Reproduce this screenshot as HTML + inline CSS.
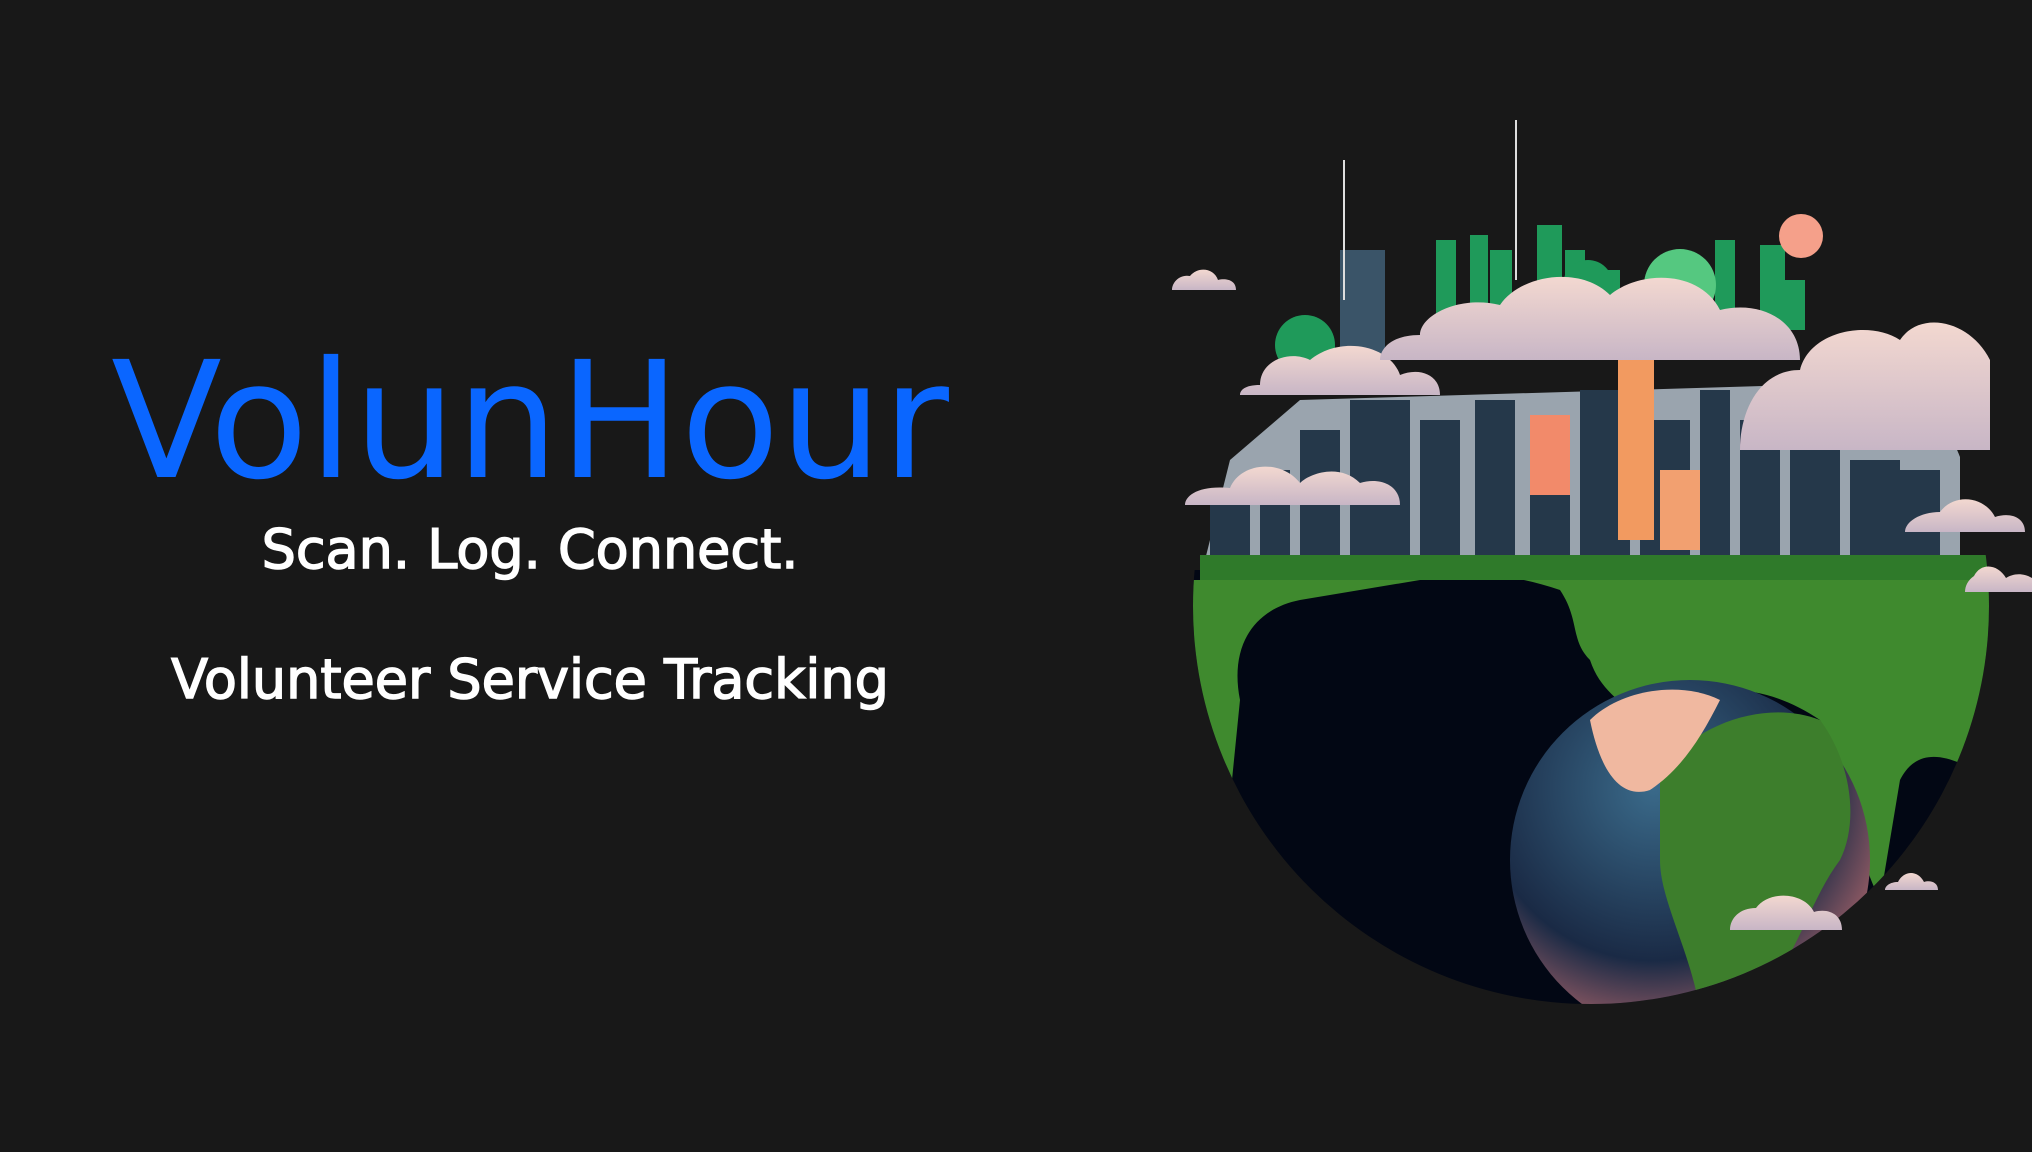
<!DOCTYPE html>
<html><head><meta charset="utf-8"><style>
html,body{margin:0;padding:0;background:#181818;}
body{width:2032px;height:1152px;position:relative;overflow:hidden;font-family:"DejaVu Sans","Liberation Sans",sans-serif;}
.t{position:absolute;left:0;width:1060px;text-align:center;white-space:nowrap;}
#h{top:322px;font-size:162px;color:#0a66ff;line-height:200px;}
#s{top:515px;font-size:54px;color:#fff;line-height:70px;-webkit-text-stroke:1.5px #fff;}
#v{top:645px;font-size:54px;color:#fff;line-height:70px;-webkit-text-stroke:1.5px #fff;}
svg{position:absolute;left:0;top:0;}
</style></head><body>
<div class="t" id="h">VolunHour</div>
<div class="t" id="s">Scan. Log. Connect.</div>
<div class="t" id="v">Volunteer Service Tracking</div>
<svg width="2032" height="1152" viewBox="0 0 2032 1152">
<defs>
<clipPath id="g"><circle cx="1591" cy="606" r="398"/></clipPath>
<radialGradient id="ie" cx="0.4" cy="0.3" r="0.8"><stop offset="0" stop-color="#3a6a8a"/><stop offset="0.6" stop-color="#1a2a45"/><stop offset="1" stop-color="#e07a78"/></radialGradient>
<linearGradient id="cl" x1="0" y1="0" x2="0" y2="1"><stop offset="0" stop-color="#f3d8d0"/><stop offset="1" stop-color="#c8b6c6"/></linearGradient>
</defs>
<g fill="#1f9a5a">
<rect x="1340" y="250" width="45" height="130" fill="#3a5468"/>
<rect x="1436" y="240" width="20" height="90"/><rect x="1470" y="235" width="18" height="95"/><rect x="1490" y="250" width="22" height="80"/>
<rect x="1537" y="225" width="25" height="100"/><rect x="1565" y="250" width="20" height="70"/><rect x="1600" y="270" width="20" height="60"/>
<rect x="1715" y="240" width="20" height="90"/><rect x="1760" y="245" width="25" height="90"/><rect x="1785" y="280" width="20" height="50"/>
<circle cx="1588" cy="285" r="25"/><circle cx="1680" cy="285" r="36" fill="#55c880"/><circle cx="1305" cy="345" r="30"/></g>
<line x1="1344" y1="160" x2="1344" y2="300" stroke="#ddd" stroke-width="2"/>
<line x1="1516" y1="120" x2="1516" y2="280" stroke="#ddd" stroke-width="2"/>
<circle cx="1801" cy="236" r="22" fill="#f5a08a"/>
<g clip-path="url(#g)">
<rect x="1190" y="570" width="800" height="440" fill="#020714"/>
<path d="M1190 580 L1990 580 L1990 780 C1960 760 1920 740 1900 780 L1880 900 C1860 860 1840 780 1820 720 C1760 680 1700 680 1640 720 C1620 700 1600 690 1590 660 C1570 640 1580 620 1560 590 C1500 570 1450 570 1420 580 L1300 600 C1250 610 1230 650 1240 700 L1230 800 L1190 800 Z" fill="#3f8a2e"/>
<circle cx="1690" cy="860" r="180" fill="url(#ie)"/>
<path d="M1660 770 C1700 720 1770 700 1820 720 C1850 760 1860 820 1840 860 C1810 900 1800 950 1760 1000 L1700 1010 C1690 950 1660 900 1660 860 Z" fill="#3d7e2c"/>
<path d="M1590 720 C1620 690 1680 680 1720 700 C1700 740 1680 770 1650 790 C1620 800 1600 770 1590 720Z" fill="#f0b8a0"/>
<path d="M1230 460 L1300 400 L1960 380 L1960 580 L1200 580 Z" fill="#9aa4ae"/>
<g fill="#25384a">
<rect x="1210" y="500" width="40" height="80"/><rect x="1260" y="470" width="30" height="110"/><rect x="1300" y="430" width="40" height="150"/>
<rect x="1350" y="400" width="60" height="180"/><rect x="1420" y="420" width="40" height="160"/><rect x="1475" y="400" width="40" height="180"/>
<rect x="1530" y="420" width="40" height="160"/><rect x="1580" y="390" width="50" height="190"/><rect x="1640" y="420" width="50" height="160"/>
<rect x="1700" y="390" width="30" height="190"/><rect x="1740" y="420" width="40" height="160"/><rect x="1790" y="450" width="50" height="130"/>
<rect x="1850" y="460" width="50" height="120"/><rect x="1900" y="470" width="40" height="110"/></g>
<rect x="1530" y="415" width="40" height="80" fill="#f28a6a"/>
<rect x="1618" y="360" width="36" height="180" fill="#f29a60"/>
<rect x="1660" y="470" width="40" height="80" fill="#f2a070"/>
<rect x="1200" y="555" width="790" height="25" fill="#2f7a2a"/>
</g>
<g fill="url(#cl)">
<path d="M1172 290 h64 c0-10-10-12-18-10 c-4-12-20-14-28-4 c-10-2-18 6-18 14z"/>
<path d="M1240 395 h200 c0-20-20-28-40-20 c-10-30-60-40-90-15 c-20-10-50 0-50 25 c-15 0-20 5-20 10z"/>
<path d="M1380 360 h420 c0-40-40-60-80-50 c-20-40-80-40-110-15 c-30-30-90-20-110 10 c-40-10-80 10-80 30 c-30 0-40 15-40 25z"/>
<path d="M1740 450 h250 v-90 c-20-40-70-50-90-20 c-30-20-90-10-100 30 c-40 0-60 40-60 80z"/>
<path d="M1185 505 h215 c0-20-20-28-40-22 c-20-20-50-10-60 0 c-20-25-60-20-70 5 c-30-3-45 7-45 17z"/>
<path d="M1905 532 h120 c0-15-15-20-30-15 c-10-20-40-25-55-5 c-20 0-35 10-35 20z"/>
<path d="M1965 592 h67 v-14 c-10-6-20-4-26 0 c-8-14-25-16-32 -2 c-6 4-9 10-9 16z"/>
<path d="M1730 930 h112 c0-16-14-22-28-18 c-10-20-45-22-58 -4 c-16 0-26 10-26 22z"/>
<path d="M1885 890 h53 c0-8-8-10-14-8 c-6-12-20-12-26 0 c-8 0-13 4-13 8z"/>
</g>
</svg>
</body></html>
